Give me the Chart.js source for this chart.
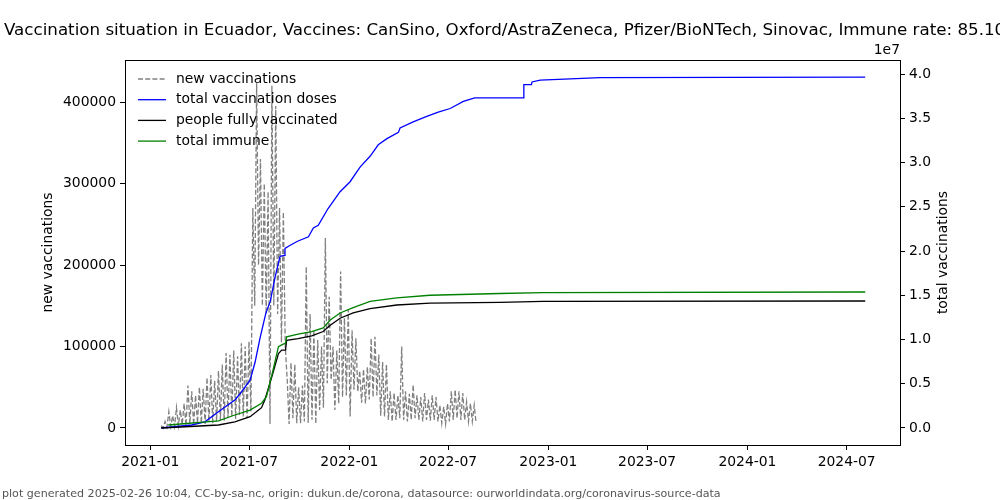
<!DOCTYPE html>
<html>
<head>
<meta charset="utf-8">
<script src="https://cdn.jsdelivr.net/npm/chart.js@4/dist/chart.umd.min.js"></script>
<style>
  body { margin: 0; background: #fff; }
  canvas { display: block; }
</style>
</head>
<body>
<canvas id="vaccChart" width="1000" height="500"></canvas>
<script>
// --- data ---
const titleText = 'Vaccination situation in Ecuador, Vaccines: CanSino, Oxford/AstraZeneca, Pfizer/BioNTech, Sinovac, Immune rate: 85.10%';
const footerText = 'plot generated 2025-02-26 10:04, CC-by-sa-nc, origin: dukun.de/corona, datasource: ourworldindata.org/coronavirus-source-data';

const xTickDates = ['2021-01-01', '2021-07-01', '2022-01-01', '2022-07-01', '2023-01-01', '2023-07-01', '2024-01-01', '2024-07-01'];
const xTickLabels = ['2021-01', '2021-07', '2022-01', '2022-07', '2023-01', '2023-07', '2024-01', '2024-07'];
const leftTicks = [0, 100000, 200000, 300000, 400000];
const rightTicks = [0, 5e6, 10e6, 15e6, 20e6, 25e6, 30e6, 35e6, 40e6];

// new vaccinations, one weekday high and one weekend low per week (thousands)
const newStart = '2021-01-21';
const newHighK = [3, 8, 20, 15, 25, 22, 30, 52, 45, 40,
  50, 48, 62, 65, 58, 70, 78, 92, 90, 95,
  88, 104, 100, 106, 270, 423, 330, 300, 290, 420,
  395, 270, 265, 60, 80, 78, 50, 52, 198, 140,
  120, 108, 100, 233, 161, 100, 95, 192, 135, 145,
  120, 110, 70, 72, 75, 110, 112, 90, 81, 78,
  45, 43, 40, 100, 45, 42, 53, 40, 38, 43,
  35, 40, 38, 28, 26, 30, 45, 47, 45, 43,
  32, 30, 28];
const newLowK = [0, 1, 2, 2, 3, 4, 3, 5, 4, 6,
  6, 5, 8, 6, 8, 10, 9, 12, 14, 11,
  16, 14, 12, 20, 150, 200, 150, 140, 5, 150,
  140, 105, 100, 5, 12, 6, 6, 8, 6, 10,
  5, 22, 25, 55, 59, 22, 30, 38, 40, 14,
  47, 45, 31, 30, 35, 38, 40, 15, 14, 10,
  8, 10, 12, 10, 8, 10, 12, 10, 8, 10,
  9, 10, 8, 6, 5, 8, 10, 12, 10, 10,
  8, 8, 6];

// total vaccination doses (millions)
const dosesDates = ['2021-01-21', '2021-03-18', '2021-04-11', '2021-05-06', '2021-06-05', '2021-06-15', '2021-07-03',
  '2021-07-12', '2021-07-21', '2021-08-01', '2021-08-09', '2021-08-18', '2021-08-27', '2021-09-04', '2021-09-05',
  '2021-09-13', '2021-09-28', '2021-10-18', '2021-10-27', '2021-11-05', '2021-11-23', '2021-12-15', '2022-01-02',
  '2022-01-21', '2022-02-08', '2022-02-23', '2022-03-11', '2022-04-01', '2022-04-04', '2022-04-28', '2022-05-23',
  '2022-06-13', '2022-07-05', '2022-07-29', '2022-08-19', '2022-11-16', '2022-11-17', '2022-12-01', '2022-12-02',
  '2022-12-17', '2023-04-06', '2024-08-04'];
const dosesM = [0, 0.34, 0.7, 1.84, 3.16, 3.9, 5.4,
  7.4, 10.1, 13.0, 14.3, 17.1, 19.4, 19.5, 20.3,
  20.6, 21.1, 21.6, 22.6, 22.9, 24.8, 26.7, 27.8,
  29.5, 30.7, 32.0, 32.7, 33.4, 33.9, 34.6, 35.2,
  35.7, 36.1, 36.9, 37.3, 37.3, 38.8, 38.8, 39.1,
  39.3, 39.6, 39.65];

// people fully vaccinated (millions)
const fullyDates = ['2021-01-21', '2021-05-06', '2021-06-05', '2021-07-03', '2021-07-18', '2021-07-24', '2021-07-30',
  '2021-08-12', '2021-08-24', '2021-08-30', '2021-09-06', '2021-09-08', '2021-09-29', '2021-10-24', '2021-11-14',
  '2021-11-27', '2021-12-15', '2022-01-08', '2022-02-08', '2022-03-29', '2022-05-29', '2022-10-04', '2022-12-22',
  '2024-08-04'];
const fullyM = [0, 0.34, 0.7, 1.28, 2.0, 2.3, 3.16,
  5.8, 8.4, 8.8, 8.8, 9.9, 10.1, 10.4, 10.9,
  11.6, 12.4, 13.0, 13.5, 13.9, 14.1, 14.2, 14.3,
  14.35];

// total immune (millions)
const immuneDates = ['2021-02-03', '2021-05-06', '2021-06-05', '2021-07-03', '2021-07-24', '2021-08-02', '2021-08-12',
  '2021-08-24', '2021-08-30', '2021-09-06', '2021-09-08', '2021-09-29', '2021-10-24', '2021-11-14', '2021-11-27',
  '2021-12-15', '2022-01-08', '2022-02-08', '2022-03-29', '2022-05-29', '2022-10-04', '2022-12-22', '2024-08-04'];
const immuneM = [0.34, 0.8, 1.47, 2.03, 2.8, 3.54, 6.0,
  9.2, 9.4, 9.6, 10.3, 10.6, 10.9, 11.3, 12.2,
  13.0, 13.6, 14.3, 14.7, 15.0, 15.2, 15.3, 15.37];

// --- helpers ---
const dayOf = s => (Date.UTC(+s.slice(0, 4), +s.slice(5, 7) - 1, +s.slice(8, 10)) - Date.UTC(2021, 0, 1)) / 86400000;

const newPoints = [];
newHighK.forEach((v, k) => {
  const d = dayOf(newStart) + 7 * k;
  newPoints.push({ x: d, y: v * 1000 });
  newPoints.push({ x: d + 3.5, y: newLowK[k] * 1000 });
});
const toPoints = (dates, vals) => dates.map((d, i) => ({ x: dayOf(d), y: vals[i] * 1e6 }));

const legendItems = [
  { label: 'new vaccinations', color: '#808080', dash: [5, 2.2] },
  { label: 'total vaccination doses', color: '#0000ff', dash: [] },
  { label: 'people fully vaccinated', color: '#000000', dash: [] },
  { label: 'total immune', color: '#008000', dash: [] }
];

const FONT = 'DejaVu Sans';
Chart.defaults.font.family = FONT;
Chart.defaults.font.size = 13.9;
Chart.defaults.color = '#000';

// frame, legend and extra texts
const decorations = {
  id: 'decorations',
  afterDraw(chart) {
    const c = chart.ctx, a = chart.chartArea;
    c.save();
    c.strokeStyle = '#000';
    c.lineWidth = 1;
    c.strokeRect(Math.round(a.left) + 0.5, Math.round(a.top) + 0.5, Math.round(a.right - a.left), Math.round(a.bottom - a.top));

    // legend
    c.font = '13.9px ' + FONT;
    c.textBaseline = 'middle';
    legendItems.forEach((it, i) => {
      const y = 79 + i * 20.7;
      c.strokeStyle = it.color;
      c.lineWidth = 1.3;
      c.setLineDash(it.dash);
      c.beginPath();
      c.moveTo(138, y);
      c.lineTo(166, y);
      c.stroke();
      c.setLineDash([]);
      c.fillStyle = '#000';
      c.fillText(it.label, 176, y);
    });

    // title
    c.font = '16.7px ' + FONT;
    c.textAlign = 'center';
    c.fillText(titleText, (a.left + a.right) / 2, 31);

    // axis titles
    c.font = '13.9px ' + FONT;
    c.save();
    c.translate(48, (a.top + a.bottom) / 2);
    c.rotate(-Math.PI / 2);
    c.fillText('new vaccinations', 0, 0);
    c.restore();
    c.save();
    c.translate(943, (a.top + a.bottom) / 2);
    c.rotate(-Math.PI / 2);
    c.fillText('total vaccinations', 0, 0);
    c.restore();

    c.textAlign = 'right';
    c.fillText('1e7', 900, 50);

    // footer
    c.textAlign = 'left';
    c.font = '11.1px ' + FONT;
    c.fillStyle = '#555';
    c.fillText(footerText, 2, 494);
    c.restore();
  }
};

const tickGrid = { display: true, drawOnChartArea: false, tickLength: 5, tickColor: '#000', tickWidth: 1 };

new Chart(document.getElementById('vaccChart'), {
  type: 'line',
  data: {
    datasets: [
      { label: 'new vaccinations', data: newPoints, yAxisID: 'yL', borderColor: '#808080', borderWidth: 1.3, borderDash: [5, 2.2], pointRadius: 0, order: 4 },
      { label: 'total vaccination doses', data: toPoints(dosesDates, dosesM), yAxisID: 'yR', borderColor: '#0000ff', borderWidth: 1.3, pointRadius: 0, order: 3 },
      { label: 'people fully vaccinated', data: toPoints(fullyDates, fullyM), yAxisID: 'yR', borderColor: '#000000', borderWidth: 1.3, pointRadius: 0, order: 2 },
      { label: 'total immune', data: toPoints(immuneDates, immuneM), yAxisID: 'yR', borderColor: '#008000', borderWidth: 1.3, pointRadius: 0, order: 1 }
    ]
  },
  options: {
    responsive: false,
    animation: false,
    devicePixelRatio: 1,
    layout: { padding: { top: 60, left: 0, right: 0, bottom: 0 } },
    plugins: { legend: { display: false }, title: { display: false }, tooltip: { enabled: false } },
    scales: {
      x: {
        type: 'linear',
        min: -46.4,
        max: 1374.8,
        grid: tickGrid,
        border: { display: false },
        afterBuildTicks: s => { s.ticks = xTickDates.map(d => ({ value: dayOf(d) })); },
        afterFit: s => { s.height = 55; },
        ticks: { padding: 4, maxRotation: 0, autoSkip: false, callback: (v, i) => xTickLabels[i] }
      },
      yL: {
        type: 'linear',
        position: 'left',
        min: -20859,
        max: 451534,
        grid: tickGrid,
        border: { display: false },
        afterBuildTicks: s => { s.ticks = leftTicks.map(v => ({ value: v })); },
        afterFit: s => { s.width = 125; },
        ticks: { padding: 4, callback: v => String(v) }
      },
      yR: {
        type: 'linear',
        position: 'right',
        min: -1920904,
        max: 41581921,
        grid: tickGrid,
        border: { display: false },
        afterBuildTicks: s => { s.ticks = rightTicks.map(v => ({ value: v })); },
        afterFit: s => { s.width = 100; },
        ticks: { padding: 4, callback: v => (v / 1e7).toFixed(1) }
      }
    }
  },
  plugins: [decorations]
});
</script>
</body>
</html>
